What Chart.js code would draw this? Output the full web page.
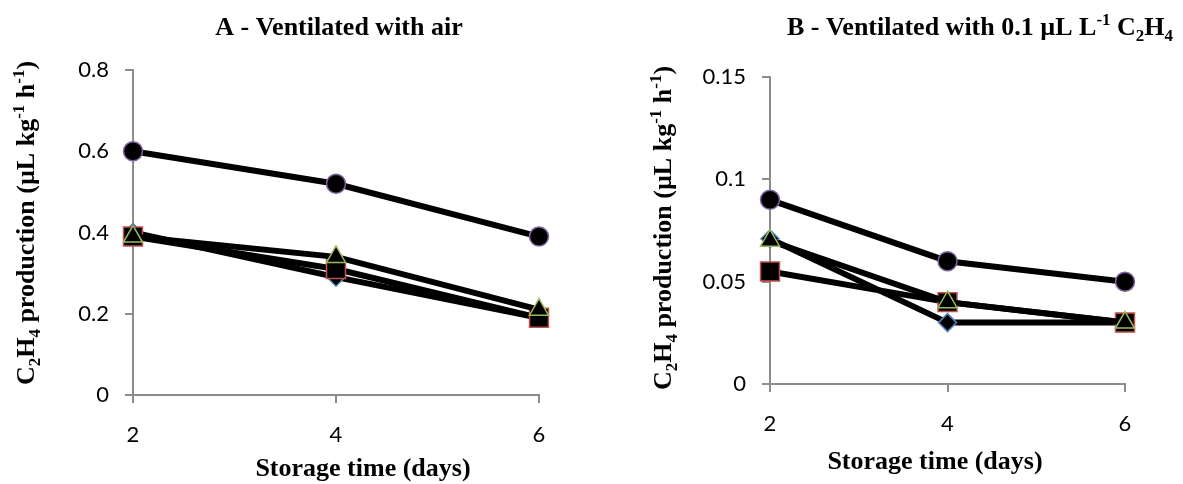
<!DOCTYPE html>
<html>
<head>
<meta charset="utf-8">
<script src="https://cdn.jsdelivr.net/npm/chart.js@4.4.1/dist/chart.umd.min.js"></script>
<style>
  body { margin: 0; background: #fff; }
  #wrap { position: relative; width: 1183px; height: 484px; }
  canvas { position: absolute; top: 0; }
</style>
</head>
<body>
<div id="wrap">
  <canvas id="chartA" width="590" height="484" style="left:0"></canvas>
  <canvas id="chartB" width="593" height="484" style="left:590px"></canvas>
</div>
<script>
const days = ['2', '4', '6'];

// A - ventilated with air
const airDiamond = [0.40, 0.29, 0.19];
const airSquare = [0.39, 0.31, 0.19];
const airTriangle = [0.39, 0.34, 0.21];
const airCircle = [0.60, 0.52, 0.39];
const airTicks = [0, 0.2, 0.4, 0.6, 0.8];

// B - ventilated with 0.1 uL/L ethylene
const ethDiamond = [0.071, 0.03, 0.03];
const ethSquare = [0.055, 0.04, 0.03];
const ethTriangle = [0.07, 0.04, 0.03];
const ethCircle = [0.09, 0.06, 0.05];
const ethTicks = [0, 0.05, 0.1, 0.15];

const titleA = [['A - Ventilated with air', '']];
const titleB = [['B - Ventilated with 0.1 µL L', ''], ['-1', 'sup'], [' C', ''], ['2', 'sub'], ['H', ''], ['4', 'sub']];
const yTitle = [['C', ''], ['2', 'sub'], ['H', ''], ['4', 'sub'], [' production (µL kg', ''], ['-1', 'sup'], [' h', ''], ['-1', 'sup'], [')', '']];
const xTitle = [['Storage time (days)', '']];

const axisGray = '#8c8c8c';
const serif = '"Liberation Serif", "Times New Roman", serif';

// draws a bold serif line of text with sub/superscripts, centred on (x, y)
function drawRich(ctx, parts, x, y, size, angle) {
  ctx.save();
  ctx.translate(x, y);
  ctx.rotate(angle || 0);
  ctx.textBaseline = 'alphabetic';
  ctx.textAlign = 'left';
  ctx.fillStyle = '#000';
  const small = Math.round(size * 0.65);
  const font = s => 'bold ' + s + 'px ' + serif;
  let total = 0;
  for (const [t, mode] of parts) {
    ctx.font = font(mode ? small : size);
    total += ctx.measureText(t).width;
  }
  let cx = -total / 2;
  for (const [t, mode] of parts) {
    ctx.font = font(mode ? small : size);
    const dy = mode === 'sub' ? size * 0.22 : mode === 'sup' ? -size * 0.38 : 0;
    ctx.fillText(t, cx, dy);
    cx += ctx.measureText(t).width;
  }
  ctx.restore();
}

function series(data, style, radius, edge, order) {
  return {
    data: data,
    pointStyle: style,
    pointRadius: radius,
    pointHoverRadius: radius,
    pointBackgroundColor: '#000',
    pointBorderColor: edge,
    pointBorderWidth: 1.5,
    borderColor: '#000',
    borderWidth: 6,
    tension: 0,
    order: order
  };
}

function makeChart(id, sets, ticks, yMax, box, texts) {
  const ctx = document.getElementById(id).getContext('2d');
  return new Chart(ctx, {
    type: 'line',
    data: {
      labels: days,
      datasets: [
        series(sets[0], 'rectRot', 9, '#4F81BD', 4),
        series(sets[1], 'rect', 13.4, '#C0504D', 3),
        series(sets[2], 'triangle', 11, '#9BBB59', 2),
        series(sets[3], 'circle', 9.5, '#8064A2', 1)
      ]
    },
    options: {
      responsive: false,
      animation: false,
      layout: { padding: { top: box.top, right: box.right, left: 0, bottom: 0 } },
      plugins: { legend: { display: false }, tooltip: { enabled: false } },
      scales: {
        x: {
          offset: false,
          grid: { offset: false, drawOnChartArea: false, drawTicks: true, tickLength: 8, color: axisGray, lineWidth: 2 },
          border: { color: axisGray, width: 2 },
          ticks: { color: '#000', padding: 19, font: { family: 'Lato', size: 22 } },
          afterFit: s => { s.height = box.xHeight; }
        },
        y: {
          min: 0,
          max: yMax,
          afterBuildTicks: s => { s.ticks = ticks.map(v => ({ value: v })); },
          grid: { drawOnChartArea: false, drawTicks: true, tickLength: 8, color: axisGray, lineWidth: 2 },
          border: { color: axisGray, width: 2 },
          ticks: { color: '#000', padding: 16, font: { family: 'Lato', size: 22 }, callback: v => String(v) },
          afterFit: s => { s.width = box.yWidth; }
        }
      }
    },
    plugins: [{
      id: 'panelText',
      afterDraw(chart) {
        const c = chart.ctx;
        drawRich(c, texts.title, texts.titleX, 35, 26, 0);
        drawRich(c, yTitle, texts.yX, texts.yY, 26, -Math.PI / 2);
        drawRich(c, xTitle, texts.xX, texts.xY, 26, 0);
      }
    }]
  });
}

makeChart('chartA', [airDiamond, airSquare, airTriangle, airCircle], airTicks, 0.8,
  { top: 70, right: 51, yWidth: 133, xHeight: 89 },
  { title: titleA, titleX: 339, yX: 34, yY: 223, xX: 363, xY: 476 });

makeChart('chartB', [ethDiamond, ethSquare, ethTriangle, ethCircle], ethTicks, 0.15,
  { top: 77, right: 58, yWidth: 180, xHeight: 100 },
  { title: titleB, titleX: 390, yX: 81, yY: 228, xX: 345, xY: 469 });
</script>
</body>
</html>
